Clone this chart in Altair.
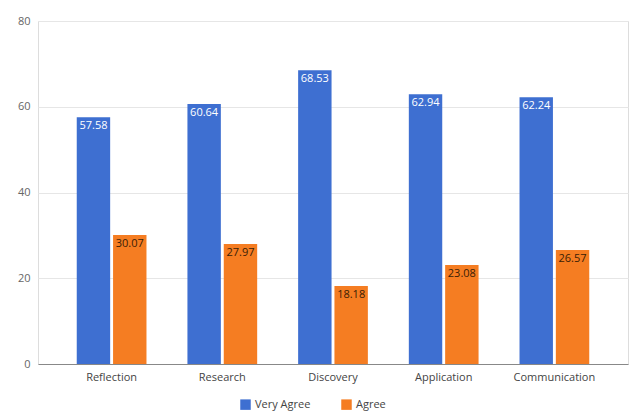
import altair as alt
import pandas as pd

categories = ["Reflection", "Research", "Discovery", "Application", "Communication"]
very_agree = [57.58, 60.64, 68.53, 62.94, 62.24]
agree = [30.07, 27.97, 18.18, 23.08, 26.57]
series_names = ["Very Agree", "Agree"]
series_colors = ["#3E6FD1", "#F57D22"]

rows = []
for c, v, a in zip(categories, very_agree, agree):
    rows.append({"category": c, "series": "Very Agree", "value": v})
    rows.append({"category": c, "series": "Agree", "value": a})
df = pd.DataFrame(rows)

x_enc = alt.X("category:N", sort=categories, title=None,
              scale=alt.Scale(paddingInner=0.37, paddingOuter=0.35),
              axis=alt.Axis(labelAngle=0, ticks=False, domain=True, domainColor="#888888",
                            labelColor="#444444", labelFontSize=11, labelPadding=7,
                            labelFont="Open Sans"))
xo_enc = alt.XOffset("series:N", sort=series_names, scale=alt.Scale(paddingInner=0.08))
y_enc = alt.Y("value:Q", title=None,
              scale=alt.Scale(domain=[0, 80], nice=False),
              axis=alt.Axis(values=[0, 20, 40, 60, 80], ticks=False, domain=False,
                            gridColor="#e6e6e6", labelColor="#666666", labelFontSize=11,
                            labelPadding=8, labelFont="Open Sans"))

bars = alt.Chart(df).mark_bar().encode(
    x=x_enc,
    xOffset=xo_enc,
    y=y_enc,
    color=alt.Color("series:N", sort=series_names,
                    scale=alt.Scale(domain=series_names, range=series_colors),
                    legend=alt.Legend(title=None, orient="none", direction="horizontal",
                                      legendX=202, legendY=378, symbolType="square",
                                      symbolSize=110, symbolStrokeWidth=0,
                                      labelFontSize=11, labelColor="#444444",
                                      labelFont="Open Sans", columnPadding=30)),
)

labels = alt.Chart(df).mark_text(baseline="top", dy=3, fontSize=11, font="Open Sans").encode(
    x=alt.X("category:N", sort=categories),
    xOffset=alt.XOffset("series:N", sort=series_names),
    y=alt.Y("value:Q"),
    text=alt.Text("value:Q", format=".2f"),
    color=alt.condition("datum.series == 'Very Agree'", alt.value("#ffffff"), alt.value("#3a2005")),
)

chart = alt.layer(bars, labels).properties(
    width=590, height=343,
    autosize=alt.AutoSizeParams(type="none"),
    padding={"left": 38, "top": 21, "right": 5, "bottom": 51},
).configure_view(stroke=None).configure(background="white")

chart.save("out.html", embed_options={"renderer": "svg", "actions": False})
